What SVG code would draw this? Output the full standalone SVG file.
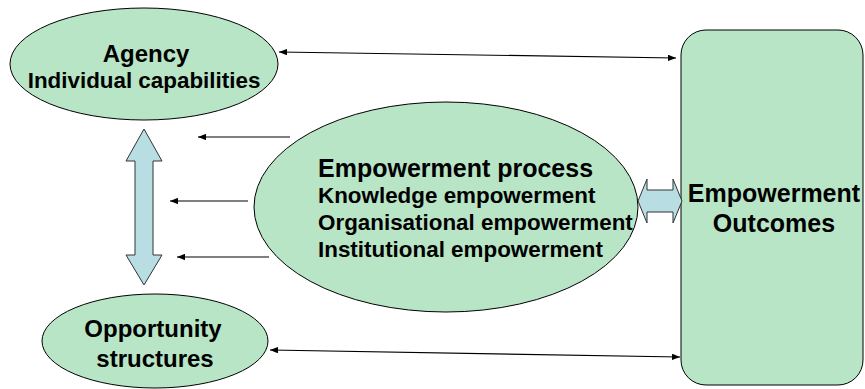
<svg xmlns="http://www.w3.org/2000/svg" width="865" height="389" viewBox="0 0 865 389">
  <style>
    .node { fill: #B8E5C6; stroke: #000; stroke-width: 1; }
    .block { fill: #B8DEE3; stroke: #333; stroke-width: 1; }
    .conn { stroke: #000; stroke-width: 1.2; fill: none; }
    text { font-family: "Liberation Sans", Arial, sans-serif; font-weight: bold; fill: #000; }
    .big { font-size: 24px; }
    .title { font-size: 25px; }
    .mid { font-size: 22.4px; }
  </style>
  <defs>
    <marker id="ah" viewBox="0 0 10 8" refX="10" refY="4" markerWidth="8" markerHeight="6.4" markerUnits="userSpaceOnUse" orient="auto-start-reverse">
      <path d="M0,0 L10,4 L0,8 Z" fill="#000"/>
    </marker>
  </defs>

  <g id="outcomes">
    <rect class="node" x="681" y="30" width="182" height="355" rx="25" ry="25" stroke-width="1.2"/>
    <text class="title" x="774" y="202" text-anchor="middle">Empowerment</text>
    <text class="title" x="774" y="232" text-anchor="middle">Outcomes</text>
  </g>

  <g id="agency">
    <ellipse class="node" cx="144" cy="64" rx="134" ry="56"/>
    <text class="big" x="146" y="62" text-anchor="middle">Agency</text>
    <text class="mid" x="144" y="88" text-anchor="middle">Individual capabilities</text>
  </g>

  <g id="opportunity">
    <ellipse class="node" cx="155" cy="341" rx="113" ry="47"/>
    <text class="big" x="153" y="337" text-anchor="middle">Opportunity</text>
    <text class="big" x="155" y="367" text-anchor="middle">structures</text>
  </g>

  <g id="process">
    <ellipse class="node" cx="446" cy="207" rx="192" ry="105"/>
    <text class="title" x="318" y="177">Empowerment process</text>
    <text class="mid" x="318" y="203">Knowledge empowerment</text>
    <text class="mid" x="318" y="230">Organisational empowerment</text>
    <text class="mid" x="318" y="257">Institutional empowerment</text>
  </g>

  <g id="connectors">
    <line class="conn" x1="279" y1="52" x2="676" y2="58" marker-start="url(#ah)" marker-end="url(#ah)"/>
    <line class="conn" x1="270" y1="350" x2="680" y2="357" marker-start="url(#ah)" marker-end="url(#ah)"/>
    <line class="conn" x1="290" y1="137" x2="198" y2="137" marker-end="url(#ah)"/>
    <line class="conn" x1="248" y1="201" x2="170" y2="201" marker-end="url(#ah)"/>
    <line class="conn" x1="269" y1="257" x2="177" y2="257" marker-end="url(#ah)"/>
    <path id="vertical-block" class="block" d="M144,129 L162,161 L153,161 L153,255 L162,255 L144,285 L126,255 L135,255 L135,161 L126,161 Z"/>
    <path id="horizontal-block" class="block" d="M638,201 L647,179 L647,190 L673,190 L673,179 L682,201 L673,223 L673,212 L647,212 L647,223 Z"/>
  </g>
</svg>
